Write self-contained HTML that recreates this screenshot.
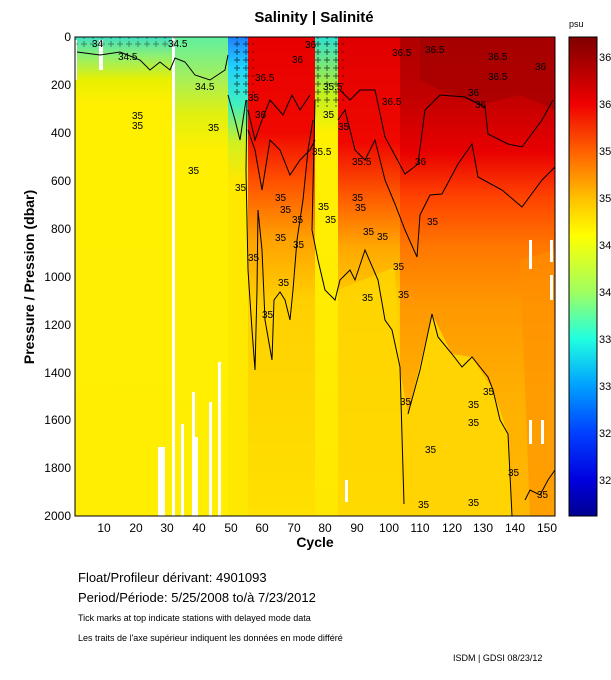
<!DOCTYPE html>
<html><head><meta charset="utf-8"><style>
body{margin:0;background:#fff;width:611px;height:675px;overflow:hidden;font-family:"Liberation Sans",sans-serif}
</style></head><body>
<svg width="611" height="675" xmlns="http://www.w3.org/2000/svg" font-family="Liberation Sans, sans-serif">
<defs>
<linearGradient id="cb" x1="0" y1="37" x2="0" y2="516" gradientUnits="userSpaceOnUse">
<stop offset="0" stop-color="#800000"/><stop offset="0.042" stop-color="#a00000"/><stop offset="0.14" stop-color="#f00000"/>
<stop offset="0.238" stop-color="#ff6000"/><stop offset="0.336" stop-color="#ffc000"/><stop offset="0.415" stop-color="#ffff00"/>
<stop offset="0.532" stop-color="#a0ff60"/><stop offset="0.63" stop-color="#20ffe0"/><stop offset="0.728" stop-color="#00a0ff"/>
<stop offset="0.826" stop-color="#0040ff"/><stop offset="0.924" stop-color="#0000e0"/><stop offset="1" stop-color="#000090"/>
</linearGradient>
<linearGradient id="gA" x1="0" y1="37" x2="0" y2="516" gradientUnits="userSpaceOnUse">
<stop offset="0" stop-color="#40e0c0"/><stop offset="0.04" stop-color="#90f070"/><stop offset="0.09" stop-color="#e8f000"/><stop offset="0.14" stop-color="#fff000"/><stop offset="1" stop-color="#ffee00"/>
</linearGradient>
<linearGradient id="gA2" x1="0" y1="37" x2="0" y2="516" gradientUnits="userSpaceOnUse">
<stop offset="0" stop-color="#60f0a0"/><stop offset="0.08" stop-color="#a0f060"/><stop offset="0.16" stop-color="#e0f010"/><stop offset="0.24" stop-color="#fff000"/><stop offset="1" stop-color="#ffee00"/>
</linearGradient>
<linearGradient id="gT" x1="0" y1="37" x2="0" y2="516" gradientUnits="userSpaceOnUse">
<stop offset="0" stop-color="#2080ff"/><stop offset="0.06" stop-color="#20d0ff"/><stop offset="0.14" stop-color="#40f0c0"/><stop offset="0.22" stop-color="#d0f020"/><stop offset="0.3" stop-color="#ffe800"/><stop offset="1" stop-color="#ffe800"/>
</linearGradient>
<linearGradient id="gB" x1="0" y1="37" x2="0" y2="516" gradientUnits="userSpaceOnUse">
<stop offset="0" stop-color="#e80000"/><stop offset="0.2" stop-color="#f00800"/><stop offset="0.3" stop-color="#ff5000"/><stop offset="0.42" stop-color="#ffa000"/><stop offset="0.55" stop-color="#ffd000"/><stop offset="1" stop-color="#ffe000"/>
</linearGradient>
<linearGradient id="gC" x1="0" y1="37" x2="0" y2="516" gradientUnits="userSpaceOnUse">
<stop offset="0" stop-color="#30e0d0"/><stop offset="0.12" stop-color="#c0f020"/><stop offset="0.2" stop-color="#fff000"/><stop offset="1" stop-color="#ffe800"/>
</linearGradient>
<linearGradient id="gD" x1="0" y1="37" x2="0" y2="516" gradientUnits="userSpaceOnUse">
<stop offset="0" stop-color="#e00000"/><stop offset="0.22" stop-color="#f00800"/><stop offset="0.34" stop-color="#ff6000"/><stop offset="0.44" stop-color="#ffa800"/><stop offset="0.55" stop-color="#ffcc00"/><stop offset="1" stop-color="#ffdc00"/>
</linearGradient>
<linearGradient id="gE" x1="0" y1="37" x2="0" y2="516" gradientUnits="userSpaceOnUse">
<stop offset="0" stop-color="#b00000"/><stop offset="0.12" stop-color="#c00000"/><stop offset="0.24" stop-color="#e80000"/><stop offset="0.33" stop-color="#ff4000"/><stop offset="0.44" stop-color="#ff7800"/><stop offset="0.56" stop-color="#ff9800"/><stop offset="0.75" stop-color="#ffb000"/><stop offset="1" stop-color="#ffb800"/>
</linearGradient>
<pattern id="pl" width="9" height="8" patternUnits="userSpaceOnUse">
<path d="M0,4 H6 M3,1 V7" stroke="#000" stroke-width="1"/>
</pattern>
</defs>
<text x="314" y="22" font-size="15" font-weight="bold" text-anchor="middle">Salinity | Salinité</text>
<rect x="75" y="37" width="480" height="479" fill="#ffe600"/>
<rect x="75" y="37" width="100" height="479" fill="url(#gA)"/>
<rect x="175" y="37" width="53" height="479" fill="url(#gA2)"/>
<rect x="228" y="37" width="20" height="479" fill="url(#gT)"/>
<rect x="248" y="37" width="67" height="479" fill="url(#gB)"/>
<rect x="315" y="37" width="23" height="479" fill="url(#gC)"/>
<rect x="338" y="37" width="62" height="479" fill="url(#gD)"/>
<rect x="400" y="37" width="155" height="479" fill="url(#gE)"/>
<polygon points="420,37 555,37 555,110 520,95 480,105 440,90 420,80" fill="#a00000" opacity="0.6"/>
<polygon points="400,370 408,414 432,314 452,354 472,357 493,390 508,434 512,516 400,516" fill="#ffd400"/>
<polygon points="395,267 400,367 400,516 338,516 338,290" fill="#ffd800" opacity="0.7"/>
<polygon points="520,260 555,250 555,516 530,516" fill="#ff9000" opacity="0.6"/>
<rect x="172" y="37" width="3" height="479" fill="#fff"/>
<rect x="99" y="40" width="4" height="30" fill="#fff"/>
<rect x="75" y="40" width="2" height="40" fill="#fff"/>
<rect x="158" y="447" width="7" height="69" fill="#fff"/>
<rect x="181" y="424" width="3" height="92" fill="#fff"/>
<rect x="192" y="392" width="3" height="124" fill="#fff"/>
<rect x="195" y="437" width="3" height="79" fill="#fff"/>
<rect x="209" y="402" width="3" height="114" fill="#fff"/>
<rect x="218" y="362" width="3" height="154" fill="#fff"/>
<rect x="345" y="480" width="3" height="22" fill="#fff"/>
<rect x="529" y="240" width="3" height="29" fill="#fff"/>
<rect x="529" y="420" width="3" height="24" fill="#fff"/>
<rect x="550" y="275" width="3" height="25" fill="#fff"/>
<rect x="541" y="420" width="3" height="24" fill="#fff"/>
<rect x="550" y="240" width="3" height="22" fill="#fff"/>
<rect x="232" y="37" width="22" height="60" fill="url(#pl)" opacity="0.6"/>
<rect x="314" y="37" width="30" height="70" fill="url(#pl)" opacity="0.6"/>
<rect x="76" y="37" width="100" height="12" fill="url(#pl)" opacity="0.4"/>
<g fill="none" stroke="#000" stroke-width="1">
<path d="M77,52 L100,55 L120,52 L140,60 L150,70 L160,62 L170,70 L175,58 L185,62 L195,75 L210,80 L225,70 L228,55"/>
<path d="M228,95 L235,120 L240,140 L246,100"/>
<path d="M247,100 L246,170 L248,270 L252,330 L255,370 L257,290 L258,210 L262,250 L265,320 L272,360 L274,300 L280,292 L285,300 L290,320 L293,290 L297,240 L303,200 L308,150 L313,120"/>
<path d="M248,130 L255,150 L262,190 L270,140 L280,150 L290,175 L300,160 L310,150 L315,140"/>
<path d="M248,110 L255,140 L262,120 L270,100 L283,115 L292,95 L300,110 L310,95"/>
<path d="M315,100 L312,230 L318,260 L325,290 L335,300 L340,280 L350,270 L355,280 L365,250 L378,280 L385,320 L392,330 L400,367 L404,504"/>
<path d="M338,120 L345,110 L355,150 L365,160 L375,140 L385,180 L395,204 L405,230 L417,257 L420,215 L430,195 L442,194 L458,164 L472,144 L478,177 L502,190 L522,207 L542,180 L555,167"/>
<path d="M340,90 L350,100 L360,90 L375,90 L385,137 L405,174 L418,164 L425,110 L440,95 L465,97 L485,107 L488,134 L508,144 L522,147 L542,120 L553,100"/>
<path d="M408,414 L420,370 L432,314 L438,337 L452,354 L462,367 L472,357 L488,377 L493,390 L500,420 L508,434 L512,516"/>
<path d="M525,500 L530,490 L540,495 L548,480 L555,470"/>
</g>
<g font-size="10" fill="#000">
<text x="92" y="47">34</text><text x="118" y="60">34.5</text><text x="168" y="47">34.5</text><text x="195" y="90">34.5</text>
<text x="132" y="119">35</text><text x="132" y="129">35</text><text x="208" y="131">35</text><text x="188" y="174">35</text>
<text x="235" y="191">35</text><text x="275" y="201">35</text><text x="280" y="213">35</text><text x="292" y="223">35</text>
<text x="275" y="241">35</text><text x="293" y="248">35</text><text x="248" y="261">35</text><text x="278" y="286">35</text>
<text x="262" y="318">35</text><text x="318" y="210">35</text><text x="325" y="223">35</text><text x="352" y="201">35</text>
<text x="355" y="211">35</text><text x="427" y="225">35</text><text x="363" y="235">35</text><text x="377" y="240">35</text>
<text x="393" y="270">35</text><text x="398" y="298">35</text><text x="362" y="301">35</text><text x="400" y="405">35</text>
<text x="468" y="408">35</text><text x="483" y="395">35</text><text x="468" y="426">35</text><text x="425" y="453">35</text>
<text x="508" y="476">35</text><text x="418" y="508">35</text><text x="468" y="506">35</text><text x="537" y="498">35</text>
<text x="323" y="118">35</text><text x="338" y="130">35</text>
<text x="312" y="155">35.5</text><text x="352" y="165">35.5</text><text x="248" y="101">35</text><text x="323" y="90">35.5</text>
<text x="255" y="118">36</text><text x="468" y="96">36</text><text x="475" y="108">36</text><text x="415" y="165">36</text>
<text x="292" y="63">36</text><text x="305" y="48">36</text>
<text x="255" y="81">36.5</text><text x="382" y="105">36.5</text><text x="392" y="56">36.5</text><text x="488" y="80">36.5</text>
<text x="488" y="60">36.5</text><text x="535" y="70">36</text><text x="425" y="53">36.5</text>
</g>
<rect x="75" y="37" width="480" height="479" fill="none" stroke="#000" stroke-width="1"/>
<g font-size="12" text-anchor="middle">
<text x="104" y="532">10</text><text x="136" y="532">20</text><text x="167" y="532">30</text><text x="199" y="532">40</text>
<text x="231" y="532">50</text><text x="262" y="532">60</text><text x="294" y="532">70</text><text x="325" y="532">80</text>
<text x="357" y="532">90</text><text x="389" y="532">100</text><text x="420" y="532">110</text><text x="452" y="532">120</text>
<text x="483" y="532">130</text><text x="515" y="532">140</text><text x="547" y="532">150</text>
</g>
<g font-size="12" text-anchor="end">
<text x="71" y="41">0</text><text x="71" y="89">200</text><text x="71" y="137">400</text><text x="71" y="185">600</text>
<text x="71" y="233">800</text><text x="71" y="281">1000</text><text x="71" y="329">1200</text><text x="71" y="377">1400</text>
<text x="71" y="424">1600</text><text x="71" y="472">1800</text><text x="71" y="520">2000</text>
</g>
<text x="315" y="547" font-size="14" font-weight="bold" text-anchor="middle">Cycle</text>
<text transform="translate(34,277) rotate(-90)" font-size="14" font-weight="bold" text-anchor="middle">Pressure / Pression (dbar)</text>
<rect x="569" y="37" width="28" height="479" fill="url(#cb)" stroke="#000" stroke-width="1"/>
<text x="569" y="27" font-size="9">psu</text>
<g font-size="11">
<text x="599" y="61">36.5</text><text x="599" y="108">36</text><text x="599" y="155">35.5</text><text x="599" y="202">35</text>
<text x="599" y="249">34.5</text><text x="599" y="296">34</text><text x="599" y="343">33.5</text><text x="599" y="390">33</text>
<text x="599" y="437">32.5</text><text x="599" y="484">32</text>
</g>
<g font-size="13">
<text x="78" y="582">Float/Profileur dérivant:  4901093</text>
<text x="78" y="602">Period/Période:  5/25/2008  to/à  7/23/2012</text>
</g>
<text x="78" y="621" font-size="9">Tick marks at top indicate stations with delayed mode data</text>
<text x="78" y="641" font-size="9">Les traits de l'axe supérieur indiquent les données en mode différé</text>
<text x="453" y="661" font-size="9">ISDM | GDSI  08/23/12</text>
</svg>
</body></html>
